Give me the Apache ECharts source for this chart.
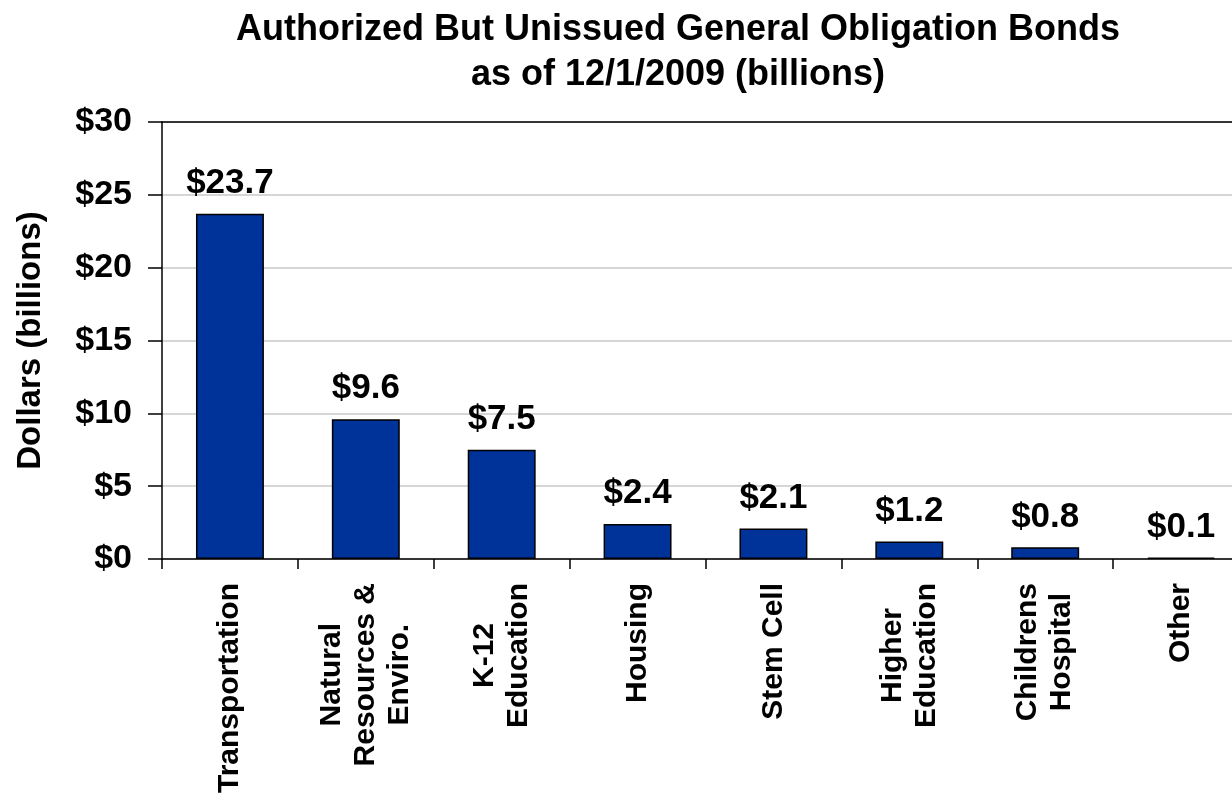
<!DOCTYPE html>
<html>
<head>
<meta charset="utf-8">
<script src="https://cdn.jsdelivr.net/npm/echarts@6/dist/echarts.min.js"></script>
<style>
html,body{margin:0;padding:0;background:#fff;}
#chart{width:1232px;height:795px;}
</style>
</head>
<body>
<div id="chart"></div>
<script>
const categories = ["Transportation", "Natural\nResources &\nEnviro.", "K-12\nEducation", "Housing", "Stem Cell", "Higher\nEducation", "Childrens\nHospital", "Other"];
const values = [23.7, 9.6, 7.5, 2.4, 2.1, 1.2, 0.8, 0.1];
const yTicks = [0, 5, 10, 15, 20, 25, 30];
const titleLines = ["Authorized But Unissued General Obligation Bonds", "as of 12/1/2009 (billions)"];
const yAxisName = "Dollars (billions)";

const FONT = 'Liberation Sans, Arial, sans-serif';
const chart = echarts.init(document.getElementById('chart'));
chart.setOption({
  backgroundColor: '#ffffff',
  animation: false,
  title: {
    text: titleLines.join('\n'),
    left: 673,
    textAlign: 'center',
    top: 3,
    textStyle: {fontFamily: FONT, fontWeight: 'bold', fontSize: 36, lineHeight: 45, color: '#000'}
  },
  grid: {left: 162, top: 122, width: 1087, height: 437, containLabel: false, outerBoundsMode: 'none'},
  xAxis: [{
    type: 'category',
    data: categories,
    axisLine: {lineStyle: {color: '#000', width: 1.5}},
    axisTick: {show: true, length: 10, lineStyle: {color: '#000', width: 1.5}},
    axisLabel: {
      rotate: 90,
      interval: 0,
      margin: 24,
      fontFamily: FONT, fontWeight: 'bold', fontSize: 30, lineHeight: 34, color: '#000',
      formatter: function (v) { return v.split('\n').map(s => '{c|' + s + '}').join('\n'); },
      rich: {c: {align: 'center', fontFamily: FONT, fontWeight: 'bold', fontSize: 30, lineHeight: 34, color: '#000'}}
    }
  }, {
    type: 'category',
    position: 'top',
    data: categories,
    axisLine: {show: true, lineStyle: {color: '#000', width: 1.5}},
    axisTick: {show: false},
    axisLabel: {show: false}
  }],
  yAxis: {
    type: 'value',
    min: yTicks[0],
    max: yTicks[yTicks.length - 1],
    interval: 5,
    name: yAxisName,
    nameLocation: 'middle',
    nameRotate: 90,
    nameGap: 115,
    nameTextStyle: {fontFamily: FONT, fontWeight: 'bold', fontSize: 33, color: '#000'},
    axisLine: {show: true, lineStyle: {color: '#000', width: 1.5}},
    axisTick: {show: true, inside: false, length: 14, lineStyle: {color: '#000', width: 1.5}},
    axisLabel: {
      margin: 30,
      fontFamily: FONT, fontWeight: 'bold', fontSize: 34, color: '#000',
      formatter: v => '$' + v
    },
    splitLine: {show: true, lineStyle: {color: '#c8c8c8', width: 1.5}}
  },
  series: [{
    type: 'bar',
    data: values,
    barWidth: '50%',
    itemStyle: {color: '#003399', borderColor: '#000', borderWidth: 1.5},
    label: {
      show: true,
      position: 'top',
      distance: 13,
      fontFamily: FONT, fontWeight: 'bold', fontSize: 35, color: '#000',
      formatter: p => '$' + p.value.toFixed(1)
    }
  }]
});
</script>
</body>
</html>
